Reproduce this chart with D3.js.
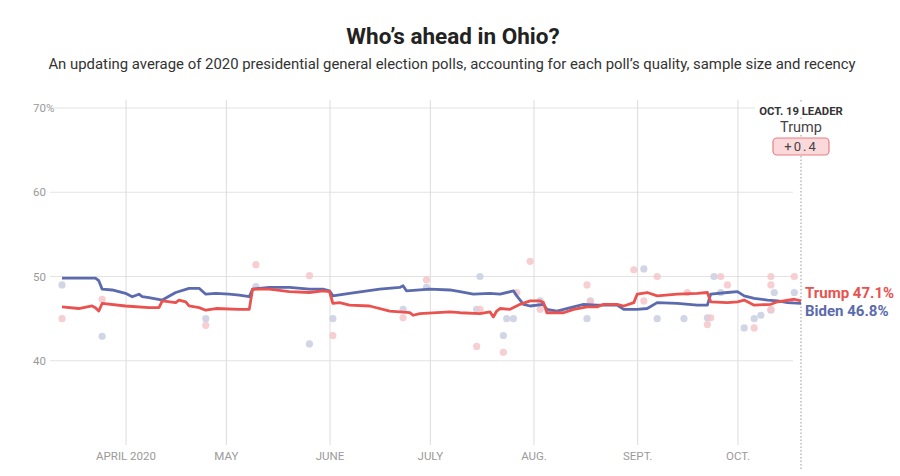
<!DOCTYPE html>
<html><head><meta charset="utf-8">
<script src="https://cdn.jsdelivr.net/npm/d3@7"></script>
<style>
body{margin:0;background:#fff;}
text{font-family:Roboto,"Noto Sans",sans-serif;}
</style></head>
<body><svg id="c" width="900" height="476"></svg>
<script>
const trumpAvg = [
["2020-03-13",46.4],["2020-03-18",46.2],["2020-03-22",46.5],["2020-03-23",46.3],["2020-03-24",45.9],["2020-03-25",46.8],
["2020-04-01",46.5],["2020-04-08",46.3],["2020-04-11",46.3],["2020-04-12",47.1],["2020-04-16",46.9],["2020-04-17",47.2],
["2020-04-19",47.0],["2020-04-20",46.5],["2020-04-23",46.3],["2020-04-25",46.0],["2020-04-28",46.2],["2020-05-05",46.1],
["2020-05-08",46.1],["2020-05-09",48.5],["2020-05-14",48.5],["2020-05-20",48.2],["2020-05-26",48.1],["2020-05-30",48.3],
["2020-06-01",48.2],["2020-06-02",46.8],["2020-06-04",46.9],["2020-06-07",46.6],["2020-06-13",46.5],["2020-06-19",45.9],
["2020-06-25",45.7],["2020-06-26",45.4],["2020-06-28",45.6],["2020-07-07",45.8],["2020-07-10",45.7],["2020-07-16",45.6],
["2020-07-19",45.8],["2020-07-20",45.2],["2020-07-21",45.9],["2020-07-22",46.2],["2020-07-25",46.1],["2020-07-28",46.7],
["2020-07-31",47.1],["2020-08-03",47.1],["2020-08-04",46.9],["2020-08-05",45.7],["2020-08-10",45.7],["2020-08-13",46.1],
["2020-08-17",46.4],["2020-08-20",46.4],["2020-08-22",46.7],["2020-08-26",46.7],["2020-08-28",46.5],["2020-08-31",46.9],
["2020-09-01",47.9],["2020-09-04",48.1],["2020-09-07",47.7],["2020-09-13",47.9],["2020-09-19",48.0],["2020-09-22",48.1],
["2020-09-23",47.0],["2020-09-28",46.9],["2020-10-01",47.0],["2020-10-03",47.2],["2020-10-06",46.6],["2020-10-11",46.7],
["2020-10-13",47.0],["2020-10-18",47.3],["2020-10-20",47.1]
];
const bidenAvg = [
["2020-03-13",49.8],["2020-03-23",49.8],["2020-03-24",49.5],["2020-03-25",48.5],["2020-03-28",48.4],["2020-04-01",48.0],
["2020-04-03",47.6],["2020-04-05",47.9],["2020-04-06",47.6],["2020-04-08",47.5],["2020-04-12",47.2],["2020-04-16",48.1],
["2020-04-20",48.6],["2020-04-23",48.6],["2020-04-25",47.9],["2020-04-28",48.0],["2020-05-02",47.9],["2020-05-05",47.8],
["2020-05-08",47.6],["2020-05-09",48.5],["2020-05-14",48.7],["2020-05-20",48.7],["2020-05-26",48.5],["2020-05-30",48.5],
["2020-06-01",48.3],["2020-06-02",47.7],["2020-06-07",48.0],["2020-06-16",48.5],["2020-06-22",48.7],["2020-06-23",48.9],
["2020-06-24",48.3],["2020-07-01",48.5],["2020-07-07",48.4],["2020-07-10",48.2],["2020-07-14",47.9],["2020-07-19",48.0],
["2020-07-22",47.9],["2020-07-26",48.3],["2020-07-27",47.7],["2020-07-29",46.7],["2020-07-31",46.5],["2020-08-04",46.7],
["2020-08-05",46.1],["2020-08-08",45.9],["2020-08-13",46.4],["2020-08-16",46.7],["2020-08-20",46.6],["2020-08-26",46.6],
["2020-08-28",46.1],["2020-09-01",46.1],["2020-09-04",46.2],["2020-09-07",46.9],["2020-09-13",46.8],["2020-09-19",46.6],
["2020-09-22",46.6],["2020-09-23",47.9],["2020-09-28",48.1],["2020-10-01",48.2],["2020-10-03",47.7],["2020-10-06",47.4],
["2020-10-10",47.2],["2020-10-13",47.1],["2020-10-16",46.9],["2020-10-20",46.8]
];
const trumpPolls = [
["2020-03-13",45.0],["2020-03-25",47.3],["2020-04-25",44.2],["2020-05-10",51.4],["2020-05-26",50.1],["2020-06-02",43.0],
["2020-06-23",45.1],["2020-06-30",49.6],["2020-07-15",41.7],["2020-07-16",46.1],["2020-07-23",41.0],["2020-07-27",48.1],
["2020-07-31",51.8],["2020-08-03",46.1],["2020-08-17",49.0],["2020-08-18",47.0],["2020-08-31",50.8],["2020-09-03",47.1],
["2020-09-07",50.0],["2020-09-16",48.1],["2020-09-22",44.3],["2020-09-23",45.1],["2020-09-26",50.0],["2020-09-28",49.0],
["2020-10-06",43.9],["2020-10-11",50.0],["2020-10-11",49.0],["2020-10-11",46.1],["2020-10-18",50.0]
];
const bidenPolls = [
["2020-03-13",49.0],["2020-03-25",42.9],["2020-04-25",45.0],["2020-05-10",48.8],["2020-05-26",42.0],["2020-06-02",45.0],
["2020-06-23",46.1],["2020-06-30",48.7],["2020-07-15",46.1],["2020-07-16",50.0],["2020-07-23",43.0],["2020-07-24",45.0],
["2020-07-26",45.0],["2020-08-03",47.1],["2020-08-17",45.0],["2020-08-18",47.1],["2020-09-03",50.9],["2020-09-07",45.0],
["2020-09-15",45.0],["2020-09-22",45.1],["2020-09-24",50.0],["2020-09-26",48.1],["2020-10-03",43.9],["2020-10-06",45.0],
["2020-10-08",45.4],["2020-10-12",48.1],["2020-10-11",46.0],["2020-10-18",48.1]
];
const yTicks = [40, 50, 60, 70];
const xTickDates = ["2020-04-01","2020-05-01","2020-06-01","2020-07-01","2020-08-01","2020-09-01","2020-10-01"];
const xTickLabels = ["APRIL 2020","MAY","JUNE","JULY","AUG.","SEPT.","OCT."];
const leaderDate = "2020-10-20";
const leaderName = "Trump";
const leaderMargin = "+0.4";
const trumpLabel = "Trump 47.1%";
const bidenLabel = "Biden 46.8%";

const parse = d3.utcParse("%Y-%m-%d");
const svg = d3.select("#c");
const x = d3.scaleUtc().domain([parse("2020-03-13"), parse("2020-10-20")]).range([62, 801]);
const y = d3.scaleLinear().domain([30, 70]).range([445, 108]);

const RED = "#e9524f", BLUE = "#5b6bae";

svg.append("text").attr("x",453).attr("y",44).attr("text-anchor","middle")
  .attr("font-size",22.5).attr("font-weight",700).attr("fill","#222").text("Who’s ahead in Ohio?");
svg.append("text").attr("x",452).attr("y",69).attr("text-anchor","middle")
  .attr("font-size",14.9).attr("fill","#333")
  .text("An updating average of 2020 presidential general election polls, accounting for each poll’s quality, sample size and recency");

// horizontal grid
const yg = svg.append("g");
yTicks.forEach(t=>{
  yg.append("line").attr("x1",50).attr("x2", t===70?755:793).attr("y1",y(t)).attr("y2",y(t))
    .attr("stroke","#e3e3e3").attr("stroke-width",1);
  const tx = yg.append("text").attr("x",33).attr("y",y(t)).attr("dy","0.35em")
    .attr("font-size",11.5).attr("fill","#9a9a9a").text(t);
  if(t===70) tx.append("tspan").text("%");
});

// vertical grid + x axis
const xAxis = d3.axisBottom(x).tickValues(xTickDates.map(parse))
  .tickFormat((d,i)=>xTickLabels[i]).tickSize(-345).tickPadding(7);
const gx = svg.append("g").attr("transform","translate(0,445)").call(xAxis);
gx.select(".domain").remove();
gx.selectAll(".tick line").attr("stroke","#dcdcdc");
gx.selectAll(".tick text").attr("font-size",11.5).attr("fill","#9a9a9a").attr("font-family","Roboto,sans-serif");

// dotted leader line
svg.append("line").attr("x1",x(parse(leaderDate))).attr("x2",x(parse(leaderDate)))
  .attr("y1",100).attr("y2",470).attr("stroke","#999").attr("stroke-width",1).attr("stroke-dasharray","1.5,2");

// poll dots
svg.append("g").selectAll("circle").data(bidenPolls).join("circle")
  .attr("cx",d=>x(parse(d[0]))).attr("cy",d=>y(d[1])).attr("r",3.6).attr("fill","#ccd0e2").attr("opacity",0.9);
svg.append("g").selectAll("circle").data(trumpPolls).join("circle")
  .attr("cx",d=>x(parse(d[0]))).attr("cy",d=>y(d[1])).attr("r",3.6).attr("fill","#f6c6ca").attr("opacity",0.85);

const line = d3.line().x(d=>x(parse(d[0]))).y(d=>y(d[1]));
svg.append("path").datum(bidenAvg).attr("d",line).attr("fill","none").attr("stroke",BLUE).attr("stroke-width",2.8).attr("stroke-linejoin","round");
svg.append("path").datum(trumpAvg).attr("d",line).attr("fill","none").attr("stroke",RED).attr("stroke-width",2.8).attr("stroke-linejoin","round");

// end labels
svg.append("text").attr("x",805).attr("y",293).attr("dy","0.35em").attr("font-size",15).attr("font-weight",700).attr("fill",RED).text(trumpLabel);
svg.append("text").attr("x",805).attr("y",311).attr("dy","0.35em").attr("font-size",15).attr("font-weight",700).attr("fill",BLUE).text(bidenLabel);

// leader annotation
const lx = x(parse(leaderDate));
svg.append("rect").attr("x",lx-46).attr("y",103).attr("width",92).attr("height",14).attr("fill","#fff");
svg.append("text").attr("x",lx).attr("y",111).attr("dy","0.35em").attr("text-anchor","middle")
  .attr("font-size",11.3).attr("font-weight",700).attr("fill","#333").text("OCT. 19 LEADER");
svg.append("rect").attr("x",lx-21).attr("y",120).attr("width",42).attr("height",15).attr("fill","#fff");
svg.append("text").attr("x",lx).attr("y",127).attr("dy","0.35em").attr("text-anchor","middle")
  .attr("font-size",14.5).attr("fill","#444").text(leaderName);
svg.append("rect").attr("x",lx-28).attr("y",138).attr("width",56).attr("height",17).attr("rx",4)
  .attr("fill","#fbd9db").attr("stroke","#e77f84").attr("stroke-width",1.2);
svg.append("text").attr("x",lx).attr("y",146.5).attr("dy","0.35em").attr("text-anchor","middle")
  .attr("font-size",13).attr("fill","#444").attr("letter-spacing","2px").text(leaderMargin);
</script></body></html>
